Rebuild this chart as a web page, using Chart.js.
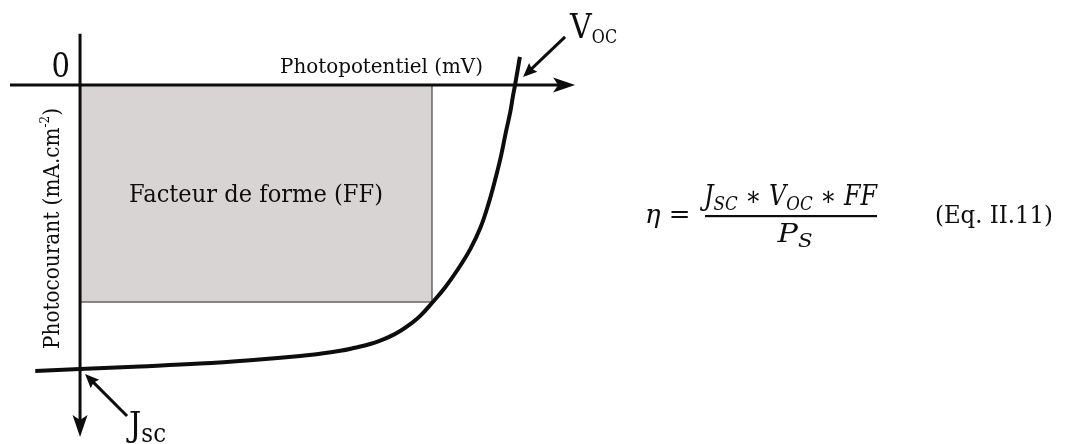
<!DOCTYPE html>
<html>
<head>
<meta charset="utf-8">
<title>Caractéristique J(V) d'une cellule solaire</title>
<script src="https://cdn.jsdelivr.net/npm/chart.js@4.4.1/dist/chart.umd.min.js"></script>
<style>
  html, body { margin: 0; padding: 0; background: #fff; }
  #chart { display: block; }
</style>
</head>
<body>
<canvas id="chart" width="1068" height="444"></canvas>
<script>
// photopotentiel, normalised to Voc
const voltage = [-0.103, 0, 0.138, 0.276, 0.391, 0.506, 0.552, 0.598, 0.632, 0.667, 0.690, 0.713, 0.736, 0.759, 0.782, 0.811, 0.839, 0.869, 0.897, 0.920, 0.938, 0.954, 0.968, 0.979, 0.989, 0.995, 1.000, 1.011];
// photocourant, normalised to Jsc (counted downwards)
const current = [1.007, 1.000, 0.991, 0.981, 0.969, 0.954, 0.946, 0.936, 0.925, 0.912, 0.900, 0.885, 0.866, 0.842, 0.813, 0.764, 0.713, 0.648, 0.578, 0.504, 0.423, 0.335, 0.248, 0.165, 0.095, 0.040, 0, -0.099];

// maximum power point = corner of the FF rectangle
const mppVoltage = 0.809;
const mppCurrent = 0.764;
const vocValue = 1;
const jscValue = 1;

// axis ranges and arrow extents (same units)
const xRange = [-0.184, 2.271];
const yRange = [-0.299, 1.264];
const xAxisSpan = [-0.161, 1.138];
const yAxisSpan = [-0.18, 1.239];

// texts
const originLabel = '0';
const xLabel = 'Photopotentiel (mV)';
const yLabel = ['Photocourant (mA.cm', '-2', ')'];
const boxLabel = 'Facteur de forme (FF)';
const eqLabel = '(Eq. II.11)';

const serif = '"DejaVu Serif", "Liberation Serif", serif';
const ink = '#0d0d0d';

function fontOf(p, size) {
    return (p.italic ? 'italic ' : '') + (size * (p.k || 1)).toFixed(2) + 'px ' + serif;
}

function runWidth(ctx, pieces, size) {
    let w = 0;
    pieces.forEach(p => {
        ctx.font = fontOf(p, size);
        w += ctx.measureText(p.t).width;
    });
    return w;
}

// draw a row of text pieces (sub/superscripts); squeezed sideways to a width if given
function drawRun(ctx, pieces, x, y, align, size, width) {
    const natural = runWidth(ctx, pieces, size);
    const sx = width ? width / natural : 1;
    const total = natural * sx;
    const left = align === 'center' ? x - total / 2 : (align === 'right' ? x - total : x);
    ctx.save();
    ctx.translate(left, y);
    ctx.scale(sx, 1);
    ctx.textAlign = 'left';
    ctx.textBaseline = 'alphabetic';
    let cx = 0;
    pieces.forEach(p => {
        ctx.font = fontOf(p, size);
        ctx.fillText(p.t, cx, (p.dy || 0) * size);
        cx += ctx.measureText(p.t).width;
    });
    ctx.restore();
}

function arrowHead(ctx, tipX, tipY, angle, len, half, notch) {
    ctx.save();
    ctx.translate(tipX, tipY);
    ctx.rotate(angle);
    ctx.beginPath();
    ctx.moveTo(0, 0);
    ctx.lineTo(-len, -half);
    ctx.lineTo(-len + notch, 0);
    ctx.lineTo(-len, half);
    ctx.closePath();
    ctx.fill();
    ctx.restore();
}

function pointer(ctx, x1, y1, x2, y2) {
    const a = Math.atan2(y2 - y1, x2 - x1);
    ctx.beginPath();
    ctx.moveTo(x1, y1);
    ctx.lineTo(x2 - Math.cos(a) * 8, y2 - Math.sin(a) * 8);
    ctx.stroke();
    arrowHead(ctx, x2, y2, a, 14, 6, 2);
}

const sketchPlugin = {
    id: 'sketch',
    afterDatasetsDraw(chart) {
        const ctx = chart.ctx;
        const xs = chart.scales.x, ys = chart.scales.y;
        const x0 = xs.getPixelForValue(0), y0 = ys.getPixelForValue(0);
        ctx.save();
        ctx.strokeStyle = ink;
        ctx.fillStyle = ink;
        ctx.lineWidth = 3;
        // axes
        const xEnd = xs.getPixelForValue(xAxisSpan[1]);
        ctx.beginPath();
        ctx.moveTo(xs.getPixelForValue(xAxisSpan[0]), y0);
        ctx.lineTo(xEnd - 12, y0);
        ctx.stroke();
        arrowHead(ctx, xEnd, y0, 0, 22, 7.5, 5);
        const yEnd = ys.getPixelForValue(yAxisSpan[1]);
        ctx.beginPath();
        ctx.moveTo(x0, ys.getPixelForValue(yAxisSpan[0]));
        ctx.lineTo(x0, yEnd - 12);
        ctx.stroke();
        arrowHead(ctx, x0, yEnd, Math.PI / 2, 22, 7.5, 5);
        // Voc and Jsc pointers
        const vx = xs.getPixelForValue(vocValue);
        const jy = ys.getPixelForValue(jscValue);
        pointer(ctx, vx + 50, y0 - 48, vx + 8, y0 - 8);
        pointer(ctx, x0 + 47, jy + 47, x0 + 5, jy + 5);
        ctx.restore();
    },
    afterDraw(chart) {
        const ctx = chart.ctx;
        const xs = chart.scales.x, ys = chart.scales.y;
        const x0 = xs.getPixelForValue(0), y0 = ys.getPixelForValue(0);
        ctx.save();
        ctx.fillStyle = ink;
        drawRun(ctx, [{t: originLabel}], x0 - 10, y0 - 8, 'right', 34, 18.5);
        drawRun(ctx, [{t: xLabel}], 280, y0 - 12, 'left', 21, 203);
        const boxMid = (x0 + xs.getPixelForValue(mppVoltage)) / 2;
        drawRun(ctx, [{t: boxLabel}], boxMid, 202, 'center', 24, 254);

        ctx.save();
        ctx.translate(58.5, 228.5);
        ctx.rotate(-Math.PI / 2);
        drawRun(ctx, [{t: yLabel[0]}, {t: yLabel[1], k: 0.6, dy: -0.42}, {t: yLabel[2]}], 0, 0, 'center', 21.5, 241);
        ctx.restore();

        const vx = xs.getPixelForValue(vocValue);
        drawRun(ctx, [{t: 'V'}, {t: 'OC', k: 0.53, dy: 0.15}], vx + 55, 38, 'left', 34, 47);
        const jy = ys.getPixelForValue(jscValue);
        drawRun(ctx, [{t: 'J'}, {t: 'sc', k: 0.75, dy: 0.17}], x0 + 49, jy + 67, 'left', 34, 37);

        // efficiency formula
        drawRun(ctx, [{t: 'η', italic: true}, {t: ' = '}], 645, 223, 'left', 26);
        drawRun(ctx, [
            {t: 'J', italic: true}, {t: 'SC', italic: true, k: 0.7, dy: 0.2},
            {t: ' ∗ '},
            {t: 'V', italic: true}, {t: 'OC', italic: true, k: 0.7, dy: 0.2},
            {t: ' ∗ '},
            {t: 'FF', italic: true}
        ], 704, 205, 'left', 27, 173);
        ctx.fillRect(705, 215, 172, 2.2);
        drawRun(ctx, [{t: 'P', italic: true}, {t: 'S', italic: true, k: 0.7, dy: 0.2}], 795, 242, 'center', 26, 35);
        drawRun(ctx, [{t: eqLabel}], 935, 223, 'left', 24, 118);
        ctx.restore();
    }
};

document.addEventListener('DOMContentLoaded', () => {
    const chartCanvas = document.getElementById('chart').getContext('2d');

    const curvePoints = voltage.map((v, i) => ({x: v, y: current[i]}));
    const boxPoints = [
        {x: 0, y: 0},
        {x: mppVoltage, y: 0},
        {x: mppVoltage, y: mppCurrent},
        {x: 0, y: mppCurrent},
        {x: 0, y: 0}
    ];

    new Chart(chartCanvas, {
        type: 'scatter',
        data: {
            datasets: [{
                label: 'J(V)',
                data: curvePoints,
                showLine: true,
                borderColor: ink,
                borderWidth: 4,
                pointRadius: 0,
                tension: 0.4,
                fill: false
            }, {
                label: 'FF',
                data: boxPoints,
                showLine: true,
                borderColor: '#666666',
                borderWidth: 1.5,
                backgroundColor: '#d8d4d3',
                fill: 'shape',
                pointRadius: 0,
                tension: 0
            }]
        },
        options: {
            responsive: false,
            animation: false,
            devicePixelRatio: 1,
            events: [],
            layout: { padding: 0 },
            plugins: {
                legend: { display: false },
                tooltip: { enabled: false }
            },
            scales: {
                x: { type: 'linear', display: false, min: xRange[0], max: xRange[1] },
                y: { type: 'linear', display: false, reverse: true, min: yRange[0], max: yRange[1] }
            }
        },
        plugins: [sketchPlugin]
    });
});
</script>
</body>
</html>
